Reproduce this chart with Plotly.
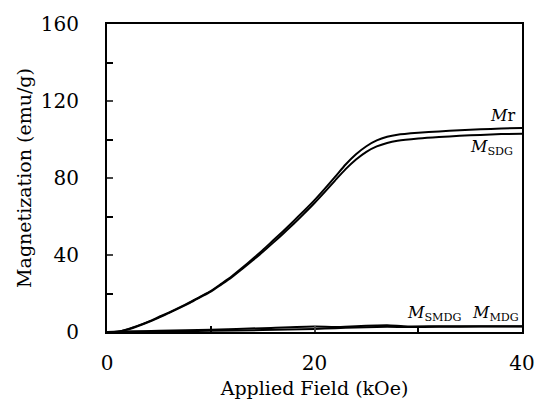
import plotly.graph_objects as go

field = [0, 1, 2, 3, 4, 5, 6, 7, 8, 9, 10, 11, 12, 13, 14, 15, 16, 17, 18, 19, 20,
         21, 22, 23, 24, 25, 26, 27, 28, 30, 32, 34, 36, 38, 40]
m_r = [0, 0.2, 1.5, 3.3, 5.4, 7.8, 10.2, 12.8, 15.5, 18.4, 21.3, 25, 28.8, 33.2, 37.8,
       42.5, 47.5, 52.5, 57.7, 63, 68.5, 74.5, 80.7, 87, 92.3, 96.5, 99.5, 101.4, 102.5,
       103.5, 104.2, 104.8, 105.3, 105.7, 106]
m_sdg = [0, 0.1, 1.3, 3.1, 5.2, 7.5, 9.9, 12.5, 15.2, 18.1, 21, 24.6, 28.3, 32.6, 37,
         41.5, 46.3, 51.2, 56.2, 61.5, 67, 72.8, 78.8, 84.6, 89.6, 93.6, 96.4, 98.2, 99.3,
         100.5, 101.3, 101.9, 102.4, 102.8, 103]

field_low = [0, 2, 5, 10, 15, 20, 22, 24, 26, 27, 29, 32, 36, 40]
m_smdg = [0, 0.2, 0.6, 1.2, 2.0, 2.8, 2.6, 3.0, 3.4, 3.5, 2.9, 3.0, 3.0, 3.0]
m_mdg = [0, 0.1, 0.3, 0.6, 1.0, 1.6, 2.0, 2.3, 2.6, 2.7, 2.6, 2.7, 2.8, 2.8]

FONT = "DejaVu Serif"

fig = go.Figure()
for xs, y in [(field, m_r), (field, m_sdg), (field_low, m_smdg), (field_low, m_mdg)]:
    fig.add_trace(go.Scatter(x=xs, y=y, mode="lines",
                             line=dict(color="black", width=2, shape="spline", smoothing=0.6),
                             showlegend=False, hoverinfo="skip"))

ann = [
    dict(x=38.1, y=106, text="<i>M</i>r", xanchor="center", yanchor="bottom", yshift=1),
    dict(x=37.1, y=103, text="<i>M</i><sub>SDG</sub>", xanchor="center", yanchor="top", yshift=-1),
    dict(x=31.5, y=3, text="<i>M</i><sub>SMDG</sub>", xanchor="center", yanchor="bottom", yshift=0),
    dict(x=37.4, y=3, text="<i>M</i><sub>MDG</sub>", xanchor="center", yanchor="bottom", yshift=0),
]
for a in ann:
    fig.add_annotation(xref="x", yref="y", showarrow=False,
                       font=dict(family=FONT, size=16, color="black"), **a)

fig.add_annotation(xref="paper", yref="paper", x=0.405, y=-0.3, text="(a)", showarrow=False,
                   yanchor="top", font=dict(family=FONT, size=18, color="black"))

fig.update_layout(
    width=547, height=416,
    margin=dict(l=107, r=20, t=17, b=84),
    paper_bgcolor="white", plot_bgcolor="white",
    font=dict(family=FONT, size=19, color="black"),
    xaxis=dict(range=[0, 40], tickvals=[0, 20, 40], ticks="inside", ticklen=6, tickwidth=1.5,
               minor=dict(tickvals=[10, 30], ticks="inside", ticklen=6, tickwidth=1.5, tickcolor="black"),
               showline=True, linecolor="black", linewidth=2, mirror=True, showgrid=False,
               zeroline=False, tickfont=dict(size=20), ticklabelstandoff=12,
               title=dict(text="Applied Field (kOe)", font=dict(size=19), standoff=8)),
    yaxis=dict(range=[0, 160], tickvals=[0, 40, 80, 120, 160], ticks="inside", ticklen=6, tickwidth=1.5,
               minor=dict(tickvals=[20, 60, 100, 140], ticks="inside", ticklen=6, tickwidth=1.5, tickcolor="black"),
               showline=True, linecolor="black", linewidth=2, mirror=True, showgrid=False,
               zeroline=False, tickfont=dict(size=20), ticklabelstandoff=22,
               title=dict(text="Magnetization (emu/g)", font=dict(size=19), standoff=4)),
)
fig.write_html("out.html")
